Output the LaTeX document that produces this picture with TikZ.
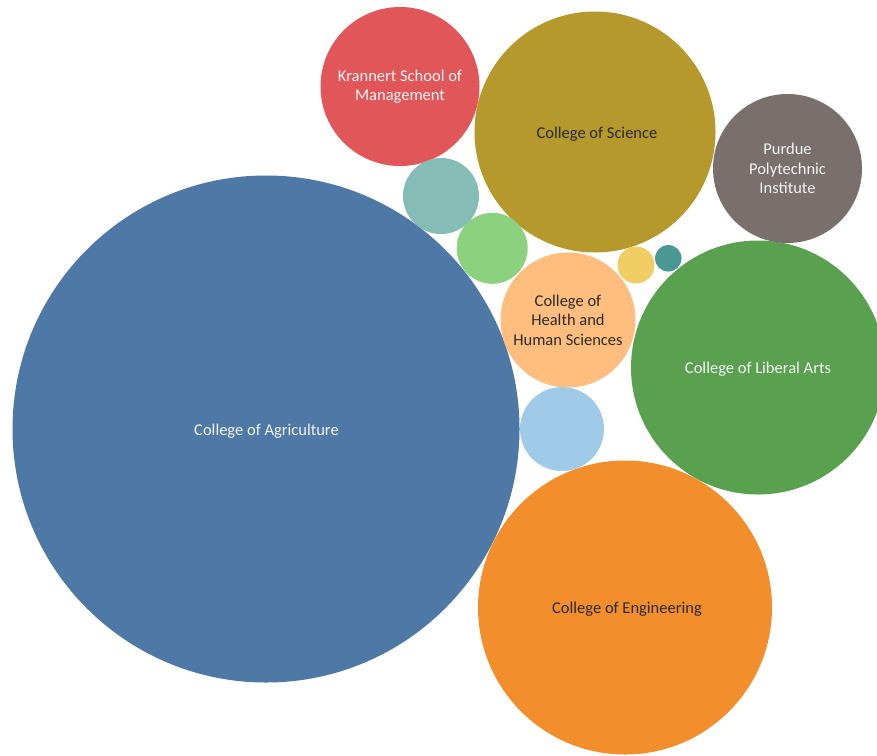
\documentclass[tikz,border=0pt]{standalone}
\usepackage{fontspec}
\setmainfont{Carlito}
\definecolor{cAgr}{HTML}{4E79A7}
\definecolor{cEng}{HTML}{F28E2B}
\definecolor{cLib}{HTML}{59A14F}
\definecolor{cSci}{HTML}{B6992D}
\definecolor{cKra}{HTML}{E15759}
\definecolor{cPol}{HTML}{79706E}
\definecolor{cHhs}{HTML}{FFBE7D}
\definecolor{cLbl}{HTML}{A0CBE8}
\definecolor{cTea}{HTML}{86BCB6}
\definecolor{cLgr}{HTML}{8CD17D}
\definecolor{cYel}{HTML}{F1CE63}
\definecolor{cDtl}{HTML}{499894}
\definecolor{lighttext}{HTML}{F4F4F4}
\definecolor{darktext}{HTML}{2A2A2A}
\tikzset{
  bubble/.style={circle, inner sep=0pt, outer sep=0pt, draw=none, align=center,
    font=\fontsize{16.5}{19.5}\selectfont},
  light/.style={text=lighttext},
  dark/.style={text=darktext}
}
\begin{document}
\begin{tikzpicture}[x=1pt,y=-1pt]
\useasboundingbox (0,0) rectangle (877,755);
\fill[white] (0,0) rectangle (877,755);
\clip (0,0) rectangle (877,755);
\node[bubble, light, fill=cAgr, minimum size=507pt] (agr) at (266,429) {};
\node[light, font=\fontsize{16.5}{19.5}\selectfont] (agrtext) at (266.5,431) {College of Agriculture};
\node[bubble, dark, fill=cEng, minimum size=294pt] (eng) at (625,607.5) {};
\node[dark, font=\fontsize{16.5}{19.5}\selectfont] (engtext) at (627,609.5) {College of Engineering};
\node[bubble, light, fill=cLib, minimum size=254pt] (lib) at (758,367.5) {};
\node[light, font=\fontsize{16.5}{19.5}\selectfont] (libtext) at (758,369.5) {College of Liberal Arts};
\node[bubble, dark, fill=cSci, minimum size=241pt] (sci) at (595,132) {};
\node[dark, font=\fontsize{16.5}{19.5}\selectfont] (scitext) at (597,134) {College of Science};
\node[bubble, light, fill=cKra, minimum size=159pt] (kra) at (400,86.5) {Krannert School of\\Management};
\node[bubble, light, fill=cPol, minimum size=149pt] (pol) at (787.5,168.5) {Purdue\\Polytechnic\\Institute};
\node[bubble, dark, fill=cHhs, minimum size=135pt] (hhs) at (568,320) {College of\\Health and\\Human Sciences};
\node[bubble, fill=cLbl, minimum size=84pt] (lbl) at (562,429) {};
\node[bubble, fill=cTea, minimum size=76pt] (tea) at (441,196) {};
\node[bubble, fill=cLgr, minimum size=71pt] (lgr) at (492.2,248.3) {};
\node[bubble, fill=cYel, minimum size=37pt] (yel) at (636,265) {};
\node[bubble, fill=cDtl, minimum size=26.5pt] (dtl) at (668.3,258.3) {};
\end{tikzpicture}
\end{document}
